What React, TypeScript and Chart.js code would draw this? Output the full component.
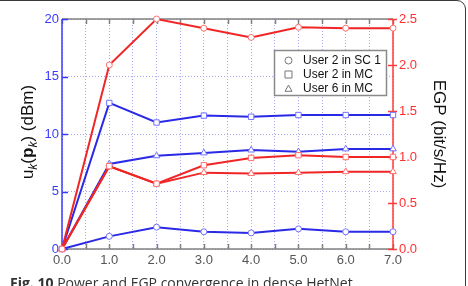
import React, { useEffect, useRef } from "react";
import { Chart, registerables } from "chart.js";
Chart.register(...registerables);

const xValues = [0, 1, 2, 3, 4, 5, 6, 7];
const powerUser2SC1 = [0, 1.1, 1.9, 1.5, 1.4, 1.75, 1.5, 1.5];
const powerUser2MC = [0, 12.7, 11.0, 11.6, 11.5, 11.65, 11.65, 11.65];
const powerUser6MC = [0, 7.4, 8.1, 8.35, 8.6, 8.45, 8.7, 8.7];
const egpUser2SC1 = [0, 2.0, 2.5, 2.4, 2.3, 2.41, 2.4, 2.4];
const egpUser2MC = [0, 0.9, 0.71, 0.91, 0.99, 1.02, 1.0, 1.0];
const egpUser6MC = [0, 0.9, 0.71, 0.83, 0.82, 0.83, 0.84, 0.84];
const legendLabels = ["User 2 in SC 1", "User 2 in MC", "User 6 in MC"];
const leftTitle = "(dBm)";
const rightTitle = "EGP (bit/s/Hz)";
const caption = "Power and EGP convergence in dense HetNet";

const FONT = "'Liberation Sans', Arial, sans-serif";
const BLUE = "#2a2ae6";
const BLUE_LIGHT = "#7272ff";
const RED = "#f02626";
const RED_LIGHT = "#ff7070";
const GRAY = "#808080";

function drawShape(ctx: CanvasRenderingContext2D, style: string, x: number, y: number, r: number) {
  ctx.beginPath();
  if (style === "circle") ctx.arc(x, y, r, 0, Math.PI * 2);
  else if (style === "rect") ctx.rect(x - r, y - r, 2 * r, 2 * r);
  else {
    ctx.moveTo(x, y - r);
    ctx.lineTo(x + r, y + r * 0.8);
    ctx.lineTo(x - r, y + r * 0.8);
    ctx.closePath();
  }
  ctx.stroke();
}

const deco = {
  id: "deco",
  beforeDatasetsDraw(chart: any) {
    const { ctx, chartArea: a, scales } = chart;
    const line = (x1: number, y1: number, x2: number, y2: number) => {
      ctx.beginPath();
      ctx.moveTo(x1, y1);
      ctx.lineTo(x2, y2);
      ctx.stroke();
    };
    ctx.save();
    ctx.lineWidth = 1.5;
    ctx.strokeStyle = GRAY;
    line(a.left, a.top, a.right, a.top);
    line(a.left, a.bottom, a.right, a.bottom);
    for (const t of scales.x.ticks) {
      const px = Math.round(scales.x.getPixelForValue(t.value)) + 0.5;
      line(px, a.bottom, px, a.bottom - 5);
      line(px, a.top, px, a.top + 5);
    }
    ctx.strokeStyle = "#3a3aff";
    line(a.left, a.top, a.left, a.bottom);
    for (const t of scales.y.ticks) {
      const py = Math.round(scales.y.getPixelForValue(t.value)) + 0.5;
      line(a.left, py, a.left + 6, py);
    }
    ctx.strokeStyle = "#ff3a3a";
    line(a.right, a.top, a.right, a.bottom);
    for (const t of scales.y1.ticks) {
      const py = Math.round(scales.y1.getPixelForValue(t.value)) + 0.5;
      line(a.right - 5, py, a.right + 4, py);
    }
    ctx.restore();
  },
  afterDraw(chart: any) {
    const { ctx } = chart;
    ctx.save();
    // legend
    const bx = 274.5, by = 50.5, bw = 112, bh = 45;
    ctx.fillStyle = "#fff";
    ctx.fillRect(bx, by, bw, bh);
    ctx.strokeStyle = "#8a8a8a";
    ctx.lineWidth = 1.5;
    ctx.strokeRect(bx, by, bw, bh);
    const styles = ["circle", "rect", "triangle"];
    ctx.font = `12px ${FONT}`;
    ctx.textBaseline = "middle";
    ctx.textAlign = "left";
    legendLabels.forEach((lab, i) => {
      const y = 60 + i * 14;
      ctx.strokeStyle = "#777";
      ctx.lineWidth = 1;
      drawShape(ctx, styles[i], 288.5, y + 0.5, 3.5);
      ctx.fillStyle = "#111";
      ctx.fillText(lab, 303, y + 1);
    });
    // right title
    ctx.save();
    ctx.translate(439, 134);
    ctx.rotate(Math.PI / 2);
    ctx.font = `17px ${FONT}`;
    ctx.fillStyle = "#111";
    ctx.textAlign = "center";
    ctx.textBaseline = "middle";
    ctx.fillText(rightTitle, 0, 0);
    ctx.restore();
    // left title: u_k(p_k) (dBm)
    ctx.save();
    ctx.translate(27, 132);
    ctx.rotate(-Math.PI / 2);
    const segs: { t: string; f: string; dy: number }[] = [
      { t: "u", f: `17px ${FONT}`, dy: 0 },
      { t: "k", f: `italic 12px ${FONT}`, dy: 4 },
      { t: "(", f: `17px ${FONT}`, dy: 0 },
      { t: "p", f: `bold 17px ${FONT}`, dy: 0 },
      { t: "k", f: `italic 12px ${FONT}`, dy: 4 },
      { t: ") " + leftTitle, f: `17px ${FONT}`, dy: 0 },
    ];
    let total = 0;
    for (const s of segs) {
      ctx.font = s.f;
      total += ctx.measureText(s.t).width;
    }
    let cx = -total / 2;
    ctx.textBaseline = "alphabetic";
    ctx.textAlign = "left";
    ctx.fillStyle = "#111";
    for (const s of segs) {
      ctx.font = s.f;
      ctx.fillText(s.t, cx, 6 + s.dy);
      cx += ctx.measureText(s.t).width;
    }
    ctx.restore();
    ctx.restore();
  },
};

export default function App() {
  const ref = useRef<HTMLCanvasElement>(null);
  useEffect(() => {
    const toPts = (ys: number[]) => xValues.map((x, i) => ({ x, y: ys[i] }));
    const mk = (label: string, ys: number[], axis: string, color: string, light: string, style: string, r: number) => ({
      label,
      data: toPts(ys),
      yAxisID: axis,
      borderColor: color,
      backgroundColor: color,
      borderWidth: 2,
      pointStyle: style,
      pointRadius: r,
      pointBorderWidth: 1,
      pointBorderColor: light,
      pointBackgroundColor: "#ffffff",
      clip: false,
      tension: 0,
    });
    const chart = new Chart(ref.current!, {
      type: "line",
      data: {
        datasets: [
          mk("egp1", egpUser2SC1, "y1", RED, RED_LIGHT, "circle", 3),
          mk("egp2", egpUser2MC, "y1", RED, RED_LIGHT, "rect", 3.8),
          mk("egp6", egpUser6MC, "y1", RED, RED_LIGHT, "triangle", 3.8),
          mk("p1", powerUser2SC1, "y", BLUE, BLUE_LIGHT, "circle", 3),
          mk("p2", powerUser2MC, "y", BLUE, BLUE_LIGHT, "rect", 3.8),
          mk("p6", powerUser6MC, "y", BLUE, BLUE_LIGHT, "triangle", 3.8),
        ] as any,
      },
      options: {
        animation: false,
        responsive: false,
        maintainAspectRatio: false,
        layout: { padding: { top: 19, left: 0, right: 0, bottom: 0 } },
        plugins: { legend: { display: false }, tooltip: { enabled: false } },
        scales: {
          x: {
            type: "linear",
            min: 0,
            max: 7,
            afterFit: (s: any) => { s.height = 37; },
            ticks: {
              stepSize: 0.5,
              autoSkip: false,
              maxRotation: 0,
              padding: 4,
              color: "#555",
              font: { family: FONT, size: 13 },
              callback: (v: any) => (Number.isInteger(v) ? Number(v).toFixed(1) : ""),
            },
            grid: { color: "#a8a8f0", lineWidth: 1, drawTicks: false },
            border: { display: false, dash: [1, 2] },
          },
          y: {
            position: "left",
            min: 0,
            max: 20,
            afterFit: (s: any) => { s.width = 62; },
            ticks: {
              stepSize: 5,
              padding: 3,
              color: "#3a3aff",
              font: { family: FONT, size: 13 },
            },
            grid: { color: "#a8a8f0", lineWidth: 1, drawTicks: false },
            border: { display: false, dash: [1, 2] },
          },
          y1: {
            position: "right",
            min: 0,
            max: 2.5,
            afterFit: (s: any) => { s.width = 75; },
            ticks: {
              stepSize: 0.5,
              padding: 6,
              color: "#ff3030",
              font: { family: FONT, size: 13 },
              callback: (v: any) => Number(v).toFixed(1),
            },
            grid: { display: false, drawTicks: false },
            border: { display: false },
          },
        },
      } as any,
      plugins: [deco],
    });
    return () => chart.destroy();
  }, []);

  return (
    <div style={{ position: "fixed", left: 0, top: 0, width: 468, height: 286, overflow: "hidden", background: "#fff" }}>
      <canvas ref={ref} width={468} height={286} style={{ position: "absolute", left: 0, top: 0 }} />
      <div
        style={{
          position: "absolute",
          left: 10,
          top: 275,
          fontFamily: "'Open Sans', 'Noto Sans', sans-serif",
          fontSize: 14,
          lineHeight: "16px",
          color: "#333",
          whiteSpace: "nowrap",
        }}
      >
        <b>Fig. 10</b> {caption}
      </div>
      <div
        style={{
          position: "absolute",
          left: -20,
          top: 0,
          width: 486,
          height: 400,
          boxSizing: "border-box",
          border: "1.5px solid #3a3a3a",
          borderRadius: 9,
          pointerEvents: "none",
        }}
      />
    </div>
  );
}
